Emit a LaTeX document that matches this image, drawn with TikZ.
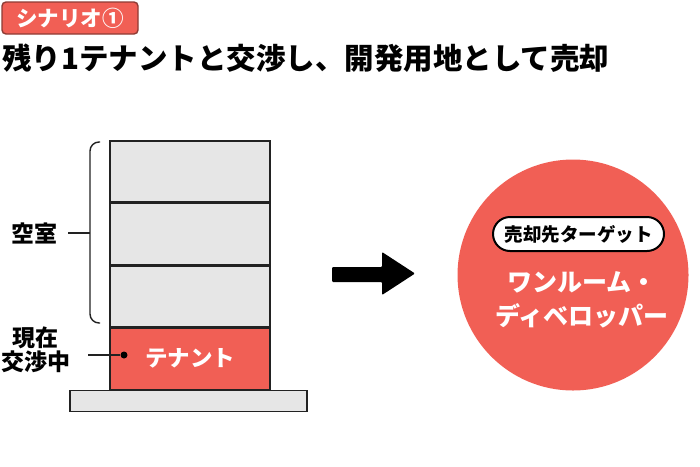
\documentclass[tikz,border=0pt]{standalone}
\usepackage{fontspec}
\setmainfont{Noto Sans CJK JP}
\usetikzlibrary{positioning, calc, arrows.meta}
\definecolor{tenant}{HTML}{F15F55}
\definecolor{floorgray}{HTML}{E6E6E6}
\definecolor{tagline}{HTML}{8E3B34}
\definecolor{ink}{HTML}{222222}

\begin{document}
\begin{tikzpicture}[
    x=1pt, y=-1pt,
    font=\bfseries,
    node distance=0pt,
    floor/.style={
        draw=ink,
        line width=1.4pt,
        fill=floorgray,
        minimum width=160,
        minimum height=61,
        inner sep=0pt
    },
    tenantfloor/.style={floor, fill=tenant, text=white, font=\bfseries\fontsize{22.5}{24}\selectfont},
    base/.style={floor, minimum width=237, minimum height=21},
    sidelabel/.style={align=center, inner sep=2pt, font=\bfseries\fontsize{23}{24}\selectfont},
    bracket/.style={draw=ink, line width=1.4pt, rounded corners=9pt},
    tagbox/.style={
        draw=tagline,
        line width=1.4pt,
        fill=tenant,
        text=white,
        rounded corners=4pt,
        minimum width=136,
        minimum height=32,
        font=\bfseries\fontsize{21.5}{23}\selectfont
    },
    pill/.style={
        draw=black,
        line width=2pt,
        fill=white,
        rounded corners=17pt,
        minimum width=171,
        minimum height=34,
        font=\bfseries\fontsize{18.5}{20}\selectfont
    }
]
\useasboundingbox (0,0) rectangle (700,466);

% Heading
\node[tagbox] (TAG) at (70,18) {シナリオ①};
\node[anchor=west, inner sep=0pt, font=\bfseries\fontsize{29.5}{32}\selectfont] (TTL) at (2,58) {残り1テナントと交渉し、開発用地として売却};

% Building
\node[floor] (F3) at (190,171.5) {};
\node[floor, below=of F3] (F2) {};
\node[floor, below=of F2] (F1) {};
\node[tenantfloor, below=of F1] (T) {テナント};
\node[base, below=of T, xshift=-1.5pt] (BASE) {};

% Labels
\node[sidelabel] (VAC) at (34,233) {空室};
\node[sidelabel] (NEG) at (36,350) {現在\\交渉中};
\coordinate (brtop) at (100,142);
\coordinate (brmid) at (90,233);
\coordinate (brbot) at (100,323);
\coordinate (negend) at (88,355);
\node[circle, fill=black, inner sep=0pt, minimum size=7] (DOT) at (124,355) {};

% Arrow
\fill[black, rounded corners=1pt] (332,267) -- (382,267) -- (382,252) -- (415,273.5)
    -- (382,295) -- (382,282) -- (332,282) -- cycle;

% Target
\node[circle, fill=tenant, minimum size=231] (TGT) at (573,275) {};
\node[pill] (BUY) at (578.5,234) {売却先ターゲット};
\node[align=center, text=white, font=\bfseries\fontsize{25}{34}\selectfont] (DEV) at (582,300) {ワンルーム・\\ディベロッパー};

% Edges
\draw[bracket] (brtop) -| (brmid) |- (brbot);
\draw[draw=ink, line width=1.4pt] (brmid) -- ++(-22,0) coordinate (vacend);
\draw[draw=ink, line width=1.4pt] (negend) -- (DOT);

\end{tikzpicture}
\end{document}
